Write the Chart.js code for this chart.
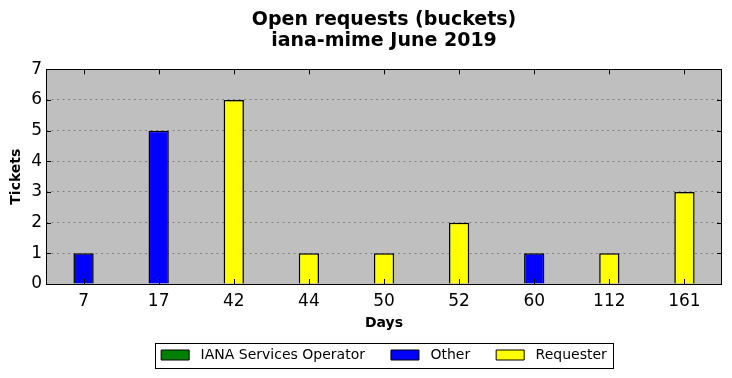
<!DOCTYPE html>
<html><head><meta charset="utf-8">
<script src="https://cdn.jsdelivr.net/npm/chart.js@4/dist/chart.umd.min.js"></script>
<style>html,body{margin:0;padding:0;background:#fff}#wrap{width:732px;height:378px}</style>
</head><body><div id="wrap"><canvas id="c" width="732" height="378"></canvas></div>
<script>
const categories = ['7','17','42','44','50','52','60','112','161'];
const ianaValues = [null,null,null,null,null,null,null,null,null];
const otherValues = [1,5,null,null,null,null,1,null,null];
const requesterValues = [null,null,6,1,1,2,null,1,3];
const seriesNames = ['IANA Services Operator','Other','Requester'];
const titleLines = ['Open requests (buckets)','iana-mime June 2019'];
const yMax = 7;

const FONT = "'DejaVu Sans', sans-serif";

const framePlugin = {
  id: 'frame',
  beforeDraw(chart) {
    const {ctx, chartArea: a} = chart;
    ctx.save();
    ctx.fillStyle = '#bfbfbf';
    ctx.fillRect(a.left, a.top, a.right - a.left, a.bottom - a.top);
    ctx.restore();
  },
  afterDatasetsDraw(chart) {
    const {ctx, chartArea: a, scales} = chart;
    ctx.save();
    ctx.strokeStyle = '#000';
    ctx.lineWidth = 1;
    ctx.beginPath();
    const L = 5;
    scales.y.ticks.forEach((t, i) => {
      const y = Math.round(scales.y.getPixelForTick(i)) + 0.5;
      ctx.moveTo(a.left, y); ctx.lineTo(a.left + L, y);
      ctx.moveTo(a.right, y); ctx.lineTo(a.right - L, y);
    });
    scales.x.ticks.forEach((t, i) => {
      const x = Math.round(scales.x.getPixelForTick(i)) + 0.5;
      ctx.moveTo(x, a.top); ctx.lineTo(x, a.top + L);
      ctx.moveTo(x, a.bottom); ctx.lineTo(x, a.bottom - L);
    });
    ctx.stroke();
    ctx.strokeRect(Math.round(a.left) + 0.5, Math.round(a.top) + 0.5, Math.round(a.right - a.left) - 1, Math.round(a.bottom - a.top));
    ctx.restore();
  },
  afterDraw(chart) {
    const lg = chart.legend;
    if (!lg || !lg.legendHitBoxes || !lg.legendHitBoxes.length) return;
    const hb = lg.legendHitBoxes;
    const first = hb[0], last = hb[hb.length - 1];
    const cy = first.top + first.height / 2;
    const x0 = first.left - 6, x1 = last.left + last.width + 6;
    const ctx = chart.ctx;
    ctx.save();
    ctx.strokeStyle = '#000';
    ctx.lineWidth = 1;
    ctx.strokeRect(Math.round(x0) + 0.5, Math.round(cy - 12.5) + 0.5, Math.round(x1 - x0), 25);
    ctx.restore();
  }
};

new Chart(document.getElementById('c'), {
  type: 'bar',
  data: {
    labels: categories,
    datasets: [
      {label: seriesNames[0], data: ianaValues, backgroundColor: '#008000', borderColor: '#000', borderWidth: 1.5},
      {label: seriesNames[1], data: otherValues, backgroundColor: '#0000ff', borderColor: '#000', borderWidth: 1.5},
      {label: seriesNames[2], data: requesterValues, backgroundColor: '#ffff00', borderColor: '#000', borderWidth: 1.5}
    ]
  },
  options: {
    responsive: false,
    animation: false,
    devicePixelRatio: 1,
    layout: {padding: {left: 0, right: 10, top: 0, bottom: 6}},
    datasets: {bar: {barPercentage: 0.27, categoryPercentage: 1}},
    plugins: {
      tooltip: {enabled: false},
      title: {
        display: true, fullSize: false, text: titleLines, color: '#000',
        font: {family: FONT, size: 19, weight: 'bold', lineHeight: 1.14},
        padding: {top: 9, bottom: 17}
      },
      legend: {
        display: true, position: 'bottom', fullSize: false,
        labels: {
          color: '#000', boxWidth: 28, boxHeight: 10, padding: 26,
          font: {family: FONT, size: 14},
          generateLabels(chart) {
            const items = Chart.defaults.plugins.legend.labels.generateLabels(chart);
            items.forEach(it => { it.text = ' ' + it.text; it.lineWidth = 1; });
            return items;
          }
        }
      }
    },
    scales: {
      x: {
        stacked: true,
        grid: {display: false, drawTicks: false},
        border: {display: false},
        ticks: {color: '#000', padding: 7, font: {family: FONT, size: 17}},
        title: {display: true, text: 'Days', color: '#000', font: {family: FONT, size: 14, weight: 'bold'}, padding: {top: 0, bottom: -10}},
        afterFit(s) { s.height = 38; }
      },
      y: {
        stacked: true, min: 0, max: yMax,
        grid: {display: true, drawTicks: false, color: '#808080', lineWidth: 1},
        border: {display: false, dash: [2, 3.5]},
        ticks: {color: '#000', stepSize: 1, padding: 4, font: {family: FONT, size: 17}},
        title: {display: true, text: 'Tickets', color: '#000', font: {family: FONT, size: 14, weight: 'bold'}, padding: {top: 7.5, bottom: 0}},
        afterFit(s) { s.width = 46; }
      }
    }
  },
  plugins: [framePlugin]
});
</script></body></html>
